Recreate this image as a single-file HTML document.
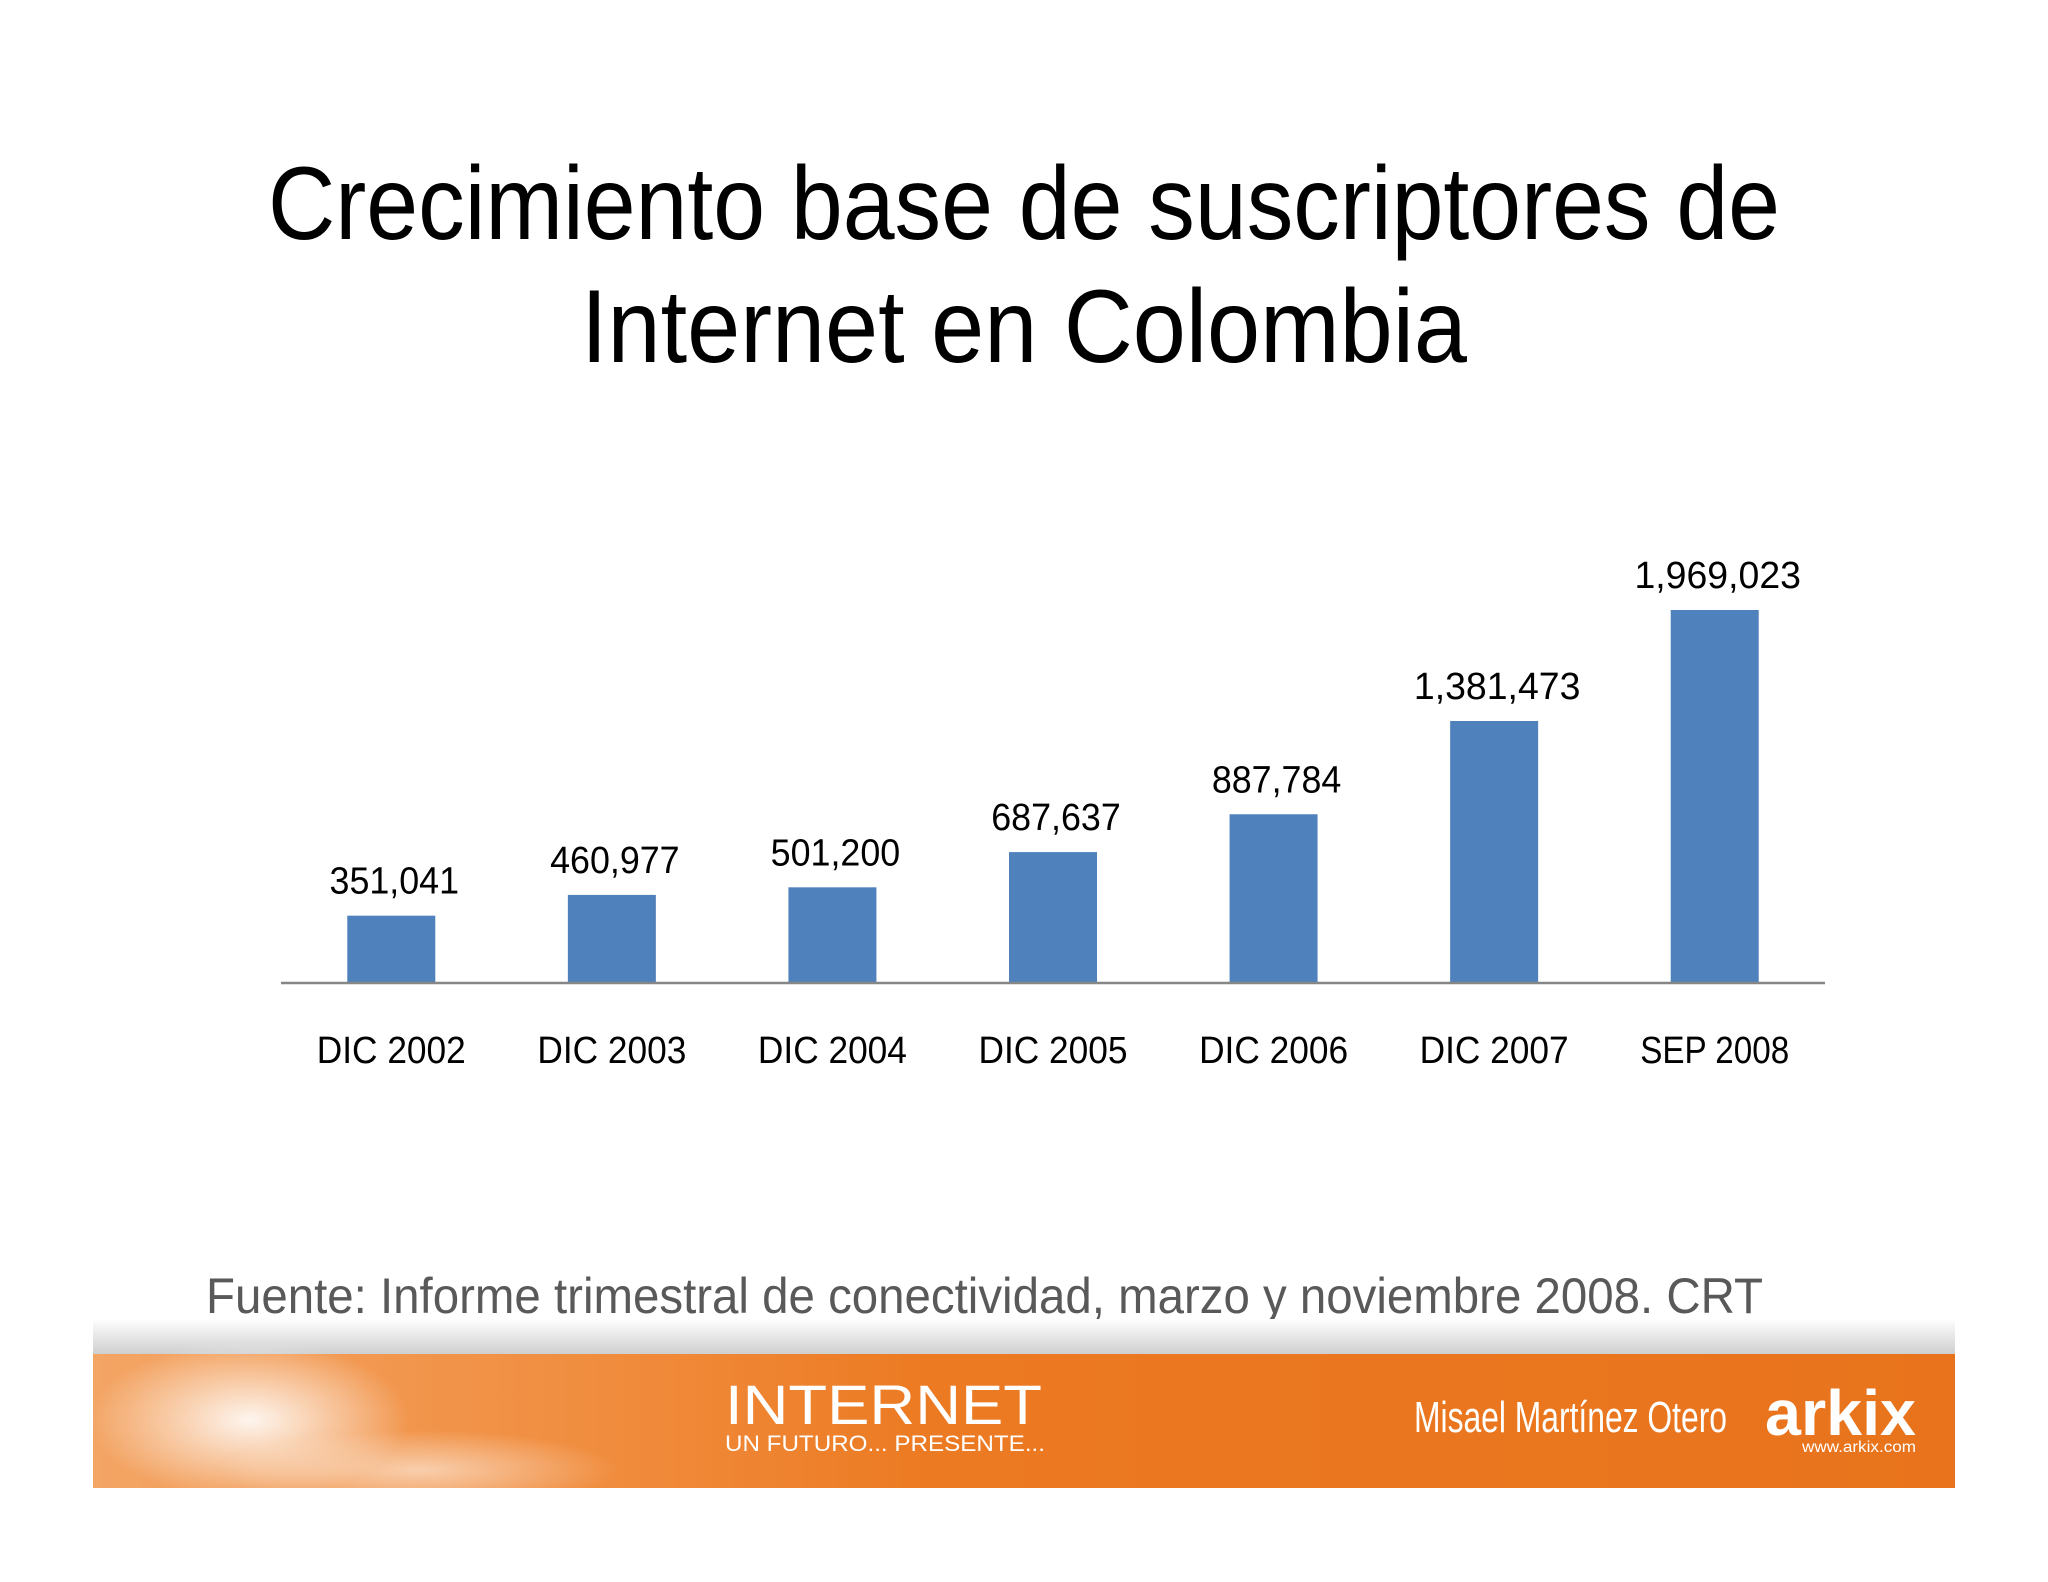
<!DOCTYPE html>
<html><head><meta charset="utf-8"><style>
html,body{margin:0;padding:0;background:#fff;}
svg{display:block;}
text{font-family:"Liberation Sans",sans-serif;}
</style></head><body>
<svg width="2048" height="1582" viewBox="0 0 2048 1582">
<defs>
<linearGradient id="fade" x1="0" y1="0" x2="0" y2="1">
<stop offset="0" stop-color="#fff"/><stop offset="1" stop-color="#cfcfcf"/></linearGradient>
<linearGradient id="org" x1="0" y1="0" x2="1" y2="0">
<stop offset="0" stop-color="#f3a565"/><stop offset="0.3" stop-color="#f08a3a"/><stop offset="0.45" stop-color="#ec7a22"/><stop offset="1" stop-color="#e8731c"/></linearGradient>
<radialGradient id="glow" cx="0.5" cy="0.5" r="0.5">
<stop offset="0" stop-color="#fff" stop-opacity="0.9"/><stop offset="1" stop-color="#fff" stop-opacity="0"/></radialGradient>
</defs>
<g>
<text x="1024" y="239" text-anchor="middle" font-size="104" fill="#000" textLength="1512" lengthAdjust="spacingAndGlyphs">Crecimiento base de suscriptores de</text>
<text x="1024" y="362" text-anchor="middle" font-size="104" fill="#000" textLength="886" lengthAdjust="spacingAndGlyphs">Internet en Colombia</text>
</g>
<g id="chart"></g>
<text x="206" y="1313" font-size="50" fill="#595959" textLength="1557" lengthAdjust="spacingAndGlyphs">Fuente:  Informe trimestral de conectividad, marzo y noviembre 2008. CRT</text>
<g>
<rect x="93" y="1319" width="1862" height="35" fill="url(#fade)"/>
<rect x="93" y="1354" width="1862" height="134" fill="url(#org)"/>
<ellipse cx="250" cy="1420" rx="160" ry="80" fill="url(#glow)"/>
<ellipse cx="420" cy="1470" rx="200" ry="40" fill="url(#glow)" opacity="0.6"/>
<text x="725" y="1424" font-size="56" fill="#fff" textLength="317" lengthAdjust="spacingAndGlyphs">INTERNET</text>
<text x="725" y="1451" font-size="22" fill="#fff" textLength="320" lengthAdjust="spacingAndGlyphs">UN FUTURO... PRESENTE...</text>
<text x="1414" y="1432" font-size="44" fill="#fff" textLength="313" lengthAdjust="spacingAndGlyphs">Misael Martínez Otero</text>
<text x="1765" y="1435" font-size="64" font-weight="bold" fill="#fff" textLength="151" lengthAdjust="spacingAndGlyphs">arkix</text>
<text x="1802" y="1452" font-size="16" fill="#fff" textLength="114" lengthAdjust="spacingAndGlyphs">www.arkix.com</text>
</g>
</svg>
<script>
const categories = ["DIC 2002","DIC 2003","DIC 2004","DIC 2005","DIC 2006","DIC 2007","SEP 2008"];
const values = [351041,460977,501200,687637,887784,1381473,1969023];
const valueLabels = ["351,041","460,977","501,200","687,637","887,784","1,381,473","1,969,023"];
const NS="http://www.w3.org/2000/svg";
const g=document.getElementById('chart');
const x0=281,x1=1825,baseY=982,plotH=372,maxV=1969023;
const band=(x1-x0)/categories.length;
const xc=i=>x0+band*(i+0.5);
const yv=v=>baseY-v/maxV*plotH;
function mk(t,a){const e=document.createElementNS(NS,t);for(const k in a)e.setAttribute(k,a[k]);return e;}
values.forEach((v,i)=>{
  const r=mk('rect',{x:xc(i)-44,y:yv(v),width:88,height:baseY-yv(v),fill:'#4f81bd'});
  
  
  g.appendChild(r);
  const t=mk('text',{x:xc(i)+3,y:yv(v)-22,'text-anchor':'middle','font-size':'38',fill:'#000',textLength:String(valueLabels[i].length*18.5),lengthAdjust:'spacingAndGlyphs'});
  t.textContent=valueLabels[i];
  
  
  g.appendChild(t);
  const c=mk('text',{x:xc(i),y:1063,'text-anchor':'middle','font-size':'38',fill:'#000',textLength:'149',lengthAdjust:'spacingAndGlyphs'});
  c.textContent=categories[i];
  
  
  g.appendChild(c);
});
const ax=mk('line',{x1:x0,y1:baseY+1,x2:x1,y2:baseY+1,stroke:'#868686','stroke-width':'2.5'});


g.appendChild(ax);
</script>
</body></html>
